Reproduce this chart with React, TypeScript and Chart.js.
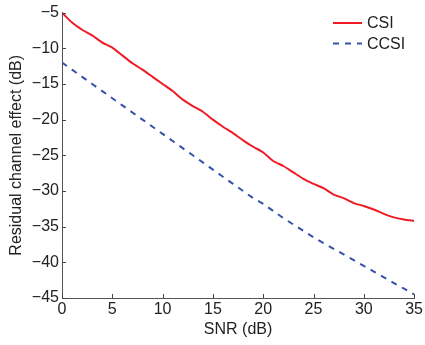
import React, { useEffect, useRef } from "react";
import { Chart, registerables } from "chart.js";

Chart.register(...registerables);

const snr = [0,1,2,3,4,5,6,7,8,9,10,11,12,13,14,15,16,17,18,19,20,21,22,23,24,25,26,27,28,29,30,31,32,33,34,35];
const csi = [-5,-6.4,-7.4,-8.2,-9.2,-9.9,-11.0,-12.1,-13.0,-14.0,-15.0,-16.0,-17.2,-18.1,-18.9,-20.0,-21.0,-21.9,-22.9,-23.8,-24.6,-25.8,-26.5,-27.4,-28.3,-29.0,-29.6,-30.5,-31.0,-31.7,-32.1,-32.6,-33.2,-33.7,-34.0,-34.2];
const ccsi = [-12,-13,-14,-15,-16,-17,-18,-19,-20,-21,-22,-23,-24,-25,-26,-27,-28,-29,-30,-31,-31.8,-32.8,-33.8,-34.7,-35.6,-36.5,-37.3,-38.1,-38.9,-39.7,-40.5,-41.3,-42.1,-42.9,-43.7,-44.5];
const seriesLabels = ["CSI", "CCSI"];
const xTitle = "SNR (dB)";
const yTitle = "Residual channel effect (dB)";

const FONT = "'Liberation Sans', Arial, Helvetica, sans-serif";
const TEXT = "#222222";
const RED = "#ee1c25";
const BLUE = "#3352a8";

const fmt = (v: number | string) => {
  const n = Number(v);
  return n < 0 ? "\u2212" + Math.abs(n) : String(n);
};

const tickPlugin = {
  id: "inwardTicks",
  afterDraw(chart: any) {
    const { ctx, chartArea, scales } = chart;
    ctx.save();
    ctx.strokeStyle = "#444444";
    ctx.lineWidth = 1;
    const len = 4;
    scales.x.ticks.forEach((t: any) => {
      const px = Math.round(scales.x.getPixelForValue(t.value)) + 0.5;
      ctx.beginPath();
      ctx.moveTo(px, chartArea.bottom);
      ctx.lineTo(px, chartArea.bottom - len);
      ctx.stroke();
    });
    scales.y.ticks.forEach((t: any) => {
      const py = Math.round(scales.y.getPixelForValue(t.value)) + 0.5;
      ctx.beginPath();
      ctx.moveTo(chartArea.left, py);
      ctx.lineTo(chartArea.left + len, py);
      ctx.stroke();
    });
    // legend
    const items = chart.data.datasets;
    const x0 = 333, x1 = 362, tx = 367;
    const ys = [23, 43.5];
    ctx.font = `16px ${FONT}`;
    ctx.textBaseline = "middle";
    ctx.textAlign = "left";
    items.forEach((ds: any, i: number) => {
      ctx.save();
      ctx.strokeStyle = ds.borderColor;
      ctx.lineWidth = ds.borderWidth;
      ctx.setLineDash(ds.borderDash || []);
      ctx.beginPath();
      ctx.moveTo(x0, ys[i]);
      ctx.lineTo(x1, ys[i]);
      ctx.stroke();
      ctx.restore();
      ctx.fillStyle = TEXT;
      ctx.fillText(ds.label, tx, ys[i] + 1);
    });
    ctx.restore();
  },
};

export default function App() {
  const ref = useRef<HTMLCanvasElement | null>(null);
  useEffect(() => {
    if (!ref.current) return;
    const chart = new Chart(ref.current, {
      type: "line",
      data: {
        datasets: [
          {
            label: seriesLabels[0],
            data: snr.map((x, i) => ({ x, y: csi[i] })),
            borderColor: RED,
            borderWidth: 2,
            pointRadius: 0,
            tension: 0.2,
            fill: false,
          },
          {
            label: seriesLabels[1],
            data: snr.map((x, i) => ({ x, y: ccsi[i] })),
            borderColor: BLUE,
            borderWidth: 2,
            borderDash: [6, 6],
            pointRadius: 0,
            tension: 0,
            fill: false,
          },
        ],
      },
      options: {
        responsive: false,
        animation: false,
        layout: { padding: { left: 0, top: 7, right: 9, bottom: 0 } },
        plugins: { legend: { display: false }, tooltip: { enabled: false } },
        scales: {
          x: {
            type: "linear",
            min: 0,
            max: 35,
            grid: { display: false, drawTicks: false },
            border: { display: true, color: "#555555", width: 1 },
            ticks: {
              stepSize: 5,
              padding: 2,
              color: TEXT,
              font: { family: FONT, size: 16 },
              maxRotation: 0,
              callback: (v: any) => fmt(v),
            },
            title: {
              display: true,
              text: xTitle,
              color: TEXT,
              font: { family: FONT, size: 16 },
              padding: { top: 0, bottom: 6 },
            },
            afterFit: (s: any) => { s.height = 47; },
          },
          y: {
            type: "linear",
            min: -45,
            max: -5,
            grid: { display: false, drawTicks: false },
            border: { display: true, color: "#555555", width: 1 },
            ticks: {
              stepSize: 5,
              padding: 3,
              color: TEXT,
              font: { family: FONT, size: 16 },
              callback: (v: any) => fmt(v),
            },
            title: {
              display: true,
              text: yTitle,
              color: TEXT,
              font: { family: FONT, size: 16 },
              padding: { top: 7, bottom: 0 },
            },
            afterFit: (s: any) => { s.width = 62; },
          },
        },
      },
      plugins: [tickPlugin],
    });
    return () => chart.destroy();
  }, []);
  return (
    <div style={{ position: "absolute", left: 0, top: 0, width: 425, height: 345, background: "#fff" }}>
      <canvas ref={ref} width={425} height={345} style={{ display: "block", width: 425, height: 345 }} />
    </div>
  );
}
